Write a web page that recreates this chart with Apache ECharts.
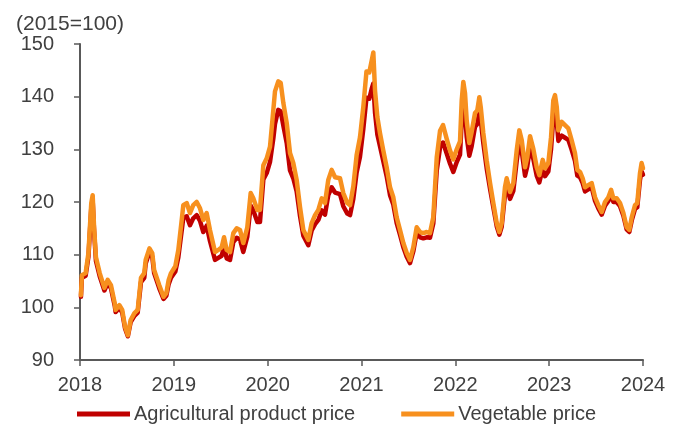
<!DOCTYPE html>
<html>
<head>
<meta charset="utf-8">
<script src="https://cdn.jsdelivr.net/npm/echarts@6/dist/echarts.min.js"></script>
<style>
  html, body { margin: 0; padding: 0; background: #ffffff; }
  #chart { width: 685px; height: 428px; }
</style>
</head>
<body>
<div id="chart"></div>
<script>
// Observation dates as decimal years
const dates = [
  2018.01, 2018.02, 2018.06, 2018.09, 2018.12, 2018.135, 2018.15, 2018.17, 2018.21, 2018.26,
  2018.295, 2018.33, 2018.37, 2018.38, 2018.42, 2018.45, 2018.48, 2018.51, 2018.54, 2018.58,
  2018.615, 2018.65, 2018.685, 2018.70, 2018.74, 2018.77, 2018.79, 2018.845, 2018.89, 2018.92,
  2018.945, 2018.97, 2019.016, 2019.048, 2019.084, 2019.101, 2019.137, 2019.172, 2019.207, 2019.244,
  2019.279, 2019.314, 2019.35, 2019.385, 2019.439, 2019.474, 2019.51, 2019.535, 2019.563, 2019.599,
  2019.634, 2019.67, 2019.705, 2019.74, 2019.783, 2019.819, 2019.847, 2019.89, 2019.918, 2019.954,
  2019.99, 2020.025, 2020.06, 2020.078, 2020.113, 2020.139, 2020.167, 2020.203, 2020.238, 2020.273,
  2020.309, 2020.345, 2020.38, 2020.433, 2020.469, 2020.505, 2020.54, 2020.576, 2020.611, 2020.646,
  2020.682, 2020.718, 2020.771, 2020.806, 2020.849, 2020.878, 2020.913, 2020.948, 2020.984, 2021.019,
  2021.053, 2021.083, 2021.109, 2021.126, 2021.144, 2021.169, 2021.197, 2021.232, 2021.268, 2021.304,
  2021.339, 2021.375, 2021.41, 2021.446, 2021.482, 2021.517, 2021.552, 2021.588, 2021.624, 2021.659,
  2021.695, 2021.73, 2021.765, 2021.802, 2021.837, 2021.869, 2021.908, 2021.943, 2021.978, 2022.015,
  2022.05, 2022.068, 2022.085, 2022.103, 2022.121, 2022.149, 2022.174, 2022.21, 2022.234, 2022.256,
  2022.271, 2022.298, 2022.334, 2022.37, 2022.405, 2022.441, 2022.469, 2022.494, 2022.529, 2022.547,
  2022.583, 2022.618, 2022.654, 2022.682, 2022.708, 2022.743, 2022.767, 2022.796, 2022.831, 2022.867,
  2022.895, 2022.931, 2022.956, 2022.991, 2023.02, 2023.044, 2023.062, 2023.081, 2023.098, 2023.134,
  2023.169, 2023.204, 2023.24, 2023.275, 2023.30, 2023.329, 2023.357, 2023.382, 2023.417, 2023.453,
  2023.489, 2023.524, 2023.56, 2023.595, 2023.631, 2023.66, 2023.684, 2023.72, 2023.755, 2023.791,
  2023.826, 2023.854, 2023.88, 2023.915, 2023.939, 2023.968, 2023.985, 2024.0
];

// Agricultural product price index (2015=100)
const agriPrice = [
  102.0, 105.6, 106.0, 109.6, 118.8, 120.3, 114.5, 108.8, 105.9, 103.2,
  104.6, 103.6, 100.3, 99.1, 99.9, 99.0, 96.0, 94.5, 97.2, 98.4,
  99.0, 104.8, 105.6, 108.3, 110.5, 109.6, 106.5, 103.6, 101.6, 102.2,
  104.4, 105.6, 106.8, 109.5, 114.6, 117.0, 117.3, 115.6, 116.9, 117.5,
  116.4, 114.3, 115.5, 112.6, 109.0, 109.4, 109.8, 111.6, 109.3, 109.0,
  112.4, 113.2, 112.9, 110.5, 113.4, 119.3, 118.4, 116.2, 116.2, 124.3,
  125.5, 127.6, 132.0, 134.8, 137.5, 137.2, 134.5, 131.2, 126.0, 124.5,
  122.0, 117.3, 113.6, 111.8, 114.6, 115.8, 116.6, 118.4, 117.6, 121.3,
  122.8, 121.8, 121.5, 119.2, 117.8, 117.5, 120.6, 125.6, 128.6, 133.8,
  139.8, 139.6, 141.5, 142.5, 137.0, 132.8, 130.6, 127.8, 124.9, 121.3,
  119.5, 116.0, 113.8, 111.4, 109.6, 108.4, 110.6, 114.2, 113.3, 113.1,
  113.3, 113.2, 115.9, 126.0, 130.3, 131.3, 129.2, 127.3, 125.7, 127.6,
  129.0, 135.5, 138.6, 136.9, 132.4, 128.8, 130.6, 134.3, 134.8, 137.2,
  135.6, 131.2, 126.4, 122.5, 119.0, 115.4, 113.8, 115.3, 121.4, 123.0,
  120.6, 122.1, 127.8, 131.4, 129.6, 125.0, 126.8, 130.4, 128.2, 125.0,
  123.7, 126.3, 124.9, 125.8, 130.0, 136.0, 137.2, 135.3, 131.6, 132.6,
  132.2, 131.8, 129.9, 127.8, 125.0, 124.7, 123.6, 122.0, 122.4, 122.8,
  120.2, 118.8, 117.6, 119.3, 120.2, 121.5, 120.0, 120.0, 119.2, 117.4,
  114.8, 114.3, 116.5, 118.7, 119.0, 124.2, 125.8, 125.2
];

// Vegetable price index (2015=100)
const vegPrice = [
  102.3, 106.1, 106.5, 110.3, 119.8, 121.3, 115.2, 109.5, 106.5, 103.7,
  105.2, 104.2, 100.8, 99.5, 100.4, 99.5, 96.3, 94.7, 97.6, 98.9,
  99.5, 105.6, 106.5, 109.0, 111.2, 110.3, 107.1, 104.2, 102.0, 102.7,
  105.2, 106.5, 107.8, 110.9, 116.6, 119.4, 119.8, 117.9, 119.4, 120.0,
  118.8, 116.6, 117.9, 114.7, 110.5, 110.9, 111.4, 113.3, 110.9, 110.5,
  114.1, 115.0, 114.7, 112.2, 115.2, 121.7, 120.7, 118.5, 118.5, 127.0,
  128.3, 130.5, 137.4, 141.0, 142.9, 142.6, 138.8, 135.0, 129.3, 127.4,
  124.2, 119.0, 114.7, 112.8, 116.0, 117.5, 118.5, 120.7, 119.8, 124.2,
  126.1, 124.7, 124.5, 121.7, 119.8, 119.4, 123.0, 128.9, 132.3, 138.0,
  144.8, 144.6, 146.9, 148.4, 141.2, 136.1, 133.1, 129.8, 126.6, 122.8,
  120.9, 117.1, 114.7, 112.2, 110.3, 109.0, 111.4, 115.2, 114.3, 114.1,
  114.3, 114.1, 117.1, 128.5, 133.5, 134.6, 132.0, 129.8, 128.1, 130.0,
  131.5, 139.3, 142.8, 140.7, 135.5, 131.2, 133.3, 136.9, 137.4, 139.9,
  138.0, 133.1, 127.9, 123.6, 119.8, 116.0, 114.3, 116.0, 122.8, 124.5,
  121.9, 123.6, 129.8, 133.6, 131.7, 126.6, 128.5, 132.5, 130.1, 126.6,
  125.1, 128.0, 126.4, 127.4, 132.3, 139.3, 140.3, 138.0, 133.6, 135.2,
  134.6, 134.0, 131.7, 129.3, 126.1, 125.7, 124.5, 122.8, 123.2, 123.6,
  120.9, 119.4, 118.1, 120.0, 120.9, 122.3, 120.7, 120.7, 119.8, 117.9,
  115.2, 114.7, 117.1, 119.4, 119.8, 125.5, 127.4, 126.4
];

const seriesNames = ['Agricultural product price', 'Vegetable price'];
const unitLabel = '(2015=100)';

const textColor = '#404040';
const axisColor = '#595959';
const fontFamily = '"Liberation Sans", Arial, sans-serif';

const chart = echarts.init(document.getElementById('chart'), null, { renderer: 'canvas' });

chart.setOption({
  animation: false,
  backgroundColor: '#ffffff',
  title: {
    text: unitLabel,
    left: 11,
    top: 9,
    textStyle: { fontFamily, fontSize: 21, fontWeight: 'normal', color: textColor }
  },
  grid: { left: 80, right: 42, top: 44, bottom: 68 },
  legend: {
    left: 72,
    top: 399,
    icon: 'rect',
    itemWidth: 53,
    itemHeight: 5,
    itemGap: 46,
    textStyle: { fontFamily, fontSize: 20, color: textColor, padding: [0, 0, 0, -1] },
    data: seriesNames
  },
  xAxis: {
    type: 'value',
    min: 2018,
    max: 2024,
    interval: 1,
    axisLine: { show: true, lineStyle: { color: axisColor, width: 2 } },
    axisTick: { show: true, length: 6, lineStyle: { color: axisColor, width: 1.5 } },
    axisLabel: {
      margin: 15,
      fontFamily, fontSize: 20, color: textColor,
      formatter: v => String(Math.round(v))
    },
    splitLine: { show: false }
  },
  yAxis: {
    type: 'value',
    min: 90,
    max: 150,
    interval: 10,
    axisLine: { show: true, lineStyle: { color: axisColor, width: 2 } },
    axisTick: { show: true, length: 6, lineStyle: { color: axisColor, width: 1.5 } },
    axisLabel: { margin: 26, fontFamily, fontSize: 20, color: textColor },
    splitLine: { show: false }
  },
  series: [
    {
      name: seriesNames[0],
      type: 'line',
      showSymbol: false,
      smooth: false,
      color: '#C00000',
      lineStyle: { width: 4.5, color: '#C00000', join: 'round', cap: 'round' },
      data: dates.map((d, i) => [d, agriPrice[i]]),
      z: 2
    },
    {
      name: seriesNames[1],
      type: 'line',
      showSymbol: false,
      smooth: false,
      color: '#F7901E',
      lineStyle: { width: 4.5, color: '#F7901E', join: 'round', cap: 'round' },
      data: dates.map((d, i) => [d, vegPrice[i]]),
      z: 3
    }
  ]
});
</script>
</body>
</html>
